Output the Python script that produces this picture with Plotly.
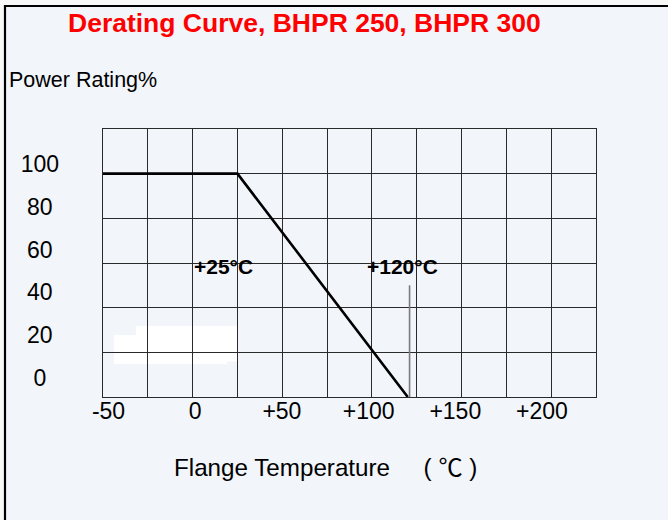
import plotly.graph_objects as go

# ---- data ----
curve_temp = [-50, 25, 120]          # Flange temperature (°C)
curve_power = [100, 100, 0]          # Power rating (%)
marker_temp = [121, 121]             # thin grey marker at the 120 °C end
marker_power = [0, 50]
x_tick_values = [-50, 0, 50, 100, 150, 200]
x_tick_labels = ["-50", "0", "+50", "+100", "+150", "+200"]
y_tick_values = [0, 20, 40, 60, 80, 100]
y_tick_labels = ["0", "20", "40", "60", "80", "100"]
knee_labels = ["+25°C", "+120°C"]
knee_label_x = [17, 116.8]
knee_label_y = [58.5, 58.5]

TITLE = "Derating Curve, BHPR 250, BHPR 300"
Y_TITLE = "Power Rating%"
X_TITLE = "Flange Temperature\u00a0\u00a0\u00a0\u00a0\u00a0( ℃ )"

# ---- layout geometry ----
W, H = 668, 520
L, R, T, B = 103, 72, 129, 123
PW, PH = W - L - R, H - T - B
BG = "#F2F5FA"
FONT = "Liberation Sans, Arial, Noto Sans CJK SC, sans-serif"


def fx(p):
    return (p - L) / PW


def fy(p):
    return (H - B - p) / PH


# pad right-aligned y labels so they appear centred like the reference
def pad(lbl):
    return lbl + {1: "\u2007", 2: "\u2008", 3: ""}[len(lbl)]


fig = go.Figure()
fig.add_trace(go.Scatter(x=curve_temp, y=curve_power, mode="lines",
                         line=dict(color="black", width=2.6),
                         hoverinfo="skip", showlegend=False))
fig.add_trace(go.Scatter(x=marker_temp, y=marker_power, mode="lines",
                         line=dict(color="#7a7a7a", width=1.6),
                         hoverinfo="skip", showlegend=False))
# empty trace carrying the label axes
fig.add_trace(go.Scatter(x=[], y=[], xaxis="x2", yaxis="y2",
                         hoverinfo="skip", showlegend=False))

grid_col = "#2a2a2a"
fig.update_layout(
    width=W, height=H,
    margin=dict(l=L, r=R, t=T, b=B, pad=0),
    paper_bgcolor="#F8F8F8",
    plot_bgcolor=BG,
    font=dict(family=FONT, color="black"),
    showlegend=False,
    xaxis=dict(range=[-50, 225], tick0=-50, dtick=25, showgrid=True,
               gridcolor=grid_col, gridwidth=1.1, showticklabels=False,
               ticks="", showline=True, linecolor=grid_col, linewidth=1.1,
               mirror=True, zeroline=False, fixedrange=True),
    yaxis=dict(range=[0, 120], tick0=0, dtick=20, showgrid=True,
               gridcolor=grid_col, gridwidth=1.1, showticklabels=False,
               ticks="", showline=True, linecolor=grid_col, linewidth=1.1,
               mirror=True, zeroline=False, fixedrange=True),
    xaxis2=dict(overlaying="x", anchor="y2", side="bottom",
                range=[-53.17, 231.14], tickmode="array",
                tickvals=x_tick_values, ticktext=x_tick_labels,
                showgrid=False, zeroline=False, showline=False, ticks="",
                tickfont=dict(size=23, family=FONT, color="black"),
                ticklabelstandoff=-2, fixedrange=True),
    yaxis2=dict(overlaying="y", anchor="x2", side="left",
                range=[-9.03, 116.38], tickmode="array",
                tickvals=y_tick_values,
                ticktext=[pad(t) for t in y_tick_labels],
                showgrid=False, zeroline=False, showline=False, ticks="",
                tickfont=dict(size=23, family=FONT, color="black"),
                ticklabelstandoff=43, fixedrange=True),
)

shapes = [
    # framed panel background
    dict(type="rect", xref="paper", yref="paper", layer="below",
         x0=fx(5), x1=fx(W + 5), y0=fy(6), y1=fy(H + 5),
         fillcolor=BG, line=dict(width=0)),
    # white patches in the lower-left of the grid
    dict(type="rect", xref="paper", yref="paper", layer="below",
         x0=fx(136), x1=fx(237), y0=fy(345), y1=fy(326),
         fillcolor="white", line=dict(width=0)),
    dict(type="rect", xref="paper", yref="paper", layer="below",
         x0=fx(114), x1=fx(227), y0=fy(364), y1=fy(335),
         fillcolor="white", line=dict(width=0)),
    dict(type="rect", xref="paper", yref="paper", layer="below",
         x0=fx(220), x1=fx(237), y0=fy(361.5), y1=fy(340),
         fillcolor="white", line=dict(width=0)),
    # outer frame (top and left edges)
    dict(type="line", xref="paper", yref="paper",
         x0=fx(4), x1=fx(W + 5), y0=fy(6), y1=fy(6),
         line=dict(color="black", width=2.2)),
    dict(type="line", xref="paper", yref="paper",
         x0=fx(5), x1=fx(5), y0=fy(5), y1=fy(H + 5),
         line=dict(color="black", width=2.2)),
]
fig.update_layout(shapes=shapes)

annotations = [
    dict(text=TITLE, xref="paper", yref="paper", x=fx(304), y=fy(23),
         xanchor="center", yanchor="middle", showarrow=False,
         font=dict(size=26.5, color="#FF0000", family=FONT, weight="bold")),
    dict(text=Y_TITLE, xref="paper", yref="paper", x=fx(7), y=fy(79.5),
         xanchor="left", yanchor="middle", showarrow=False,
         font=dict(size=21.5, color="black", family=FONT)),
    dict(text=X_TITLE, xref="paper", yref="paper", x=fx(325.5), y=fy(467),
         xanchor="center", yanchor="middle", showarrow=False,
         font=dict(size=24.2, color="black", family=FONT)),
]
for lbl, kx, ky in zip(knee_labels, knee_label_x, knee_label_y):
    annotations.append(dict(text=lbl, x=kx, y=ky, xref="x", yref="y",
                            xanchor="center", yanchor="middle",
                            showarrow=False,
                            font=dict(size=21, color="black", family=FONT,
                                      weight="bold")))
fig.update_layout(annotations=annotations)

fig.write_html("out.html", config={"displayModeBar": False},
               post_script="document.body.style.margin='0';"
                           "document.body.style.overflow='hidden';")
